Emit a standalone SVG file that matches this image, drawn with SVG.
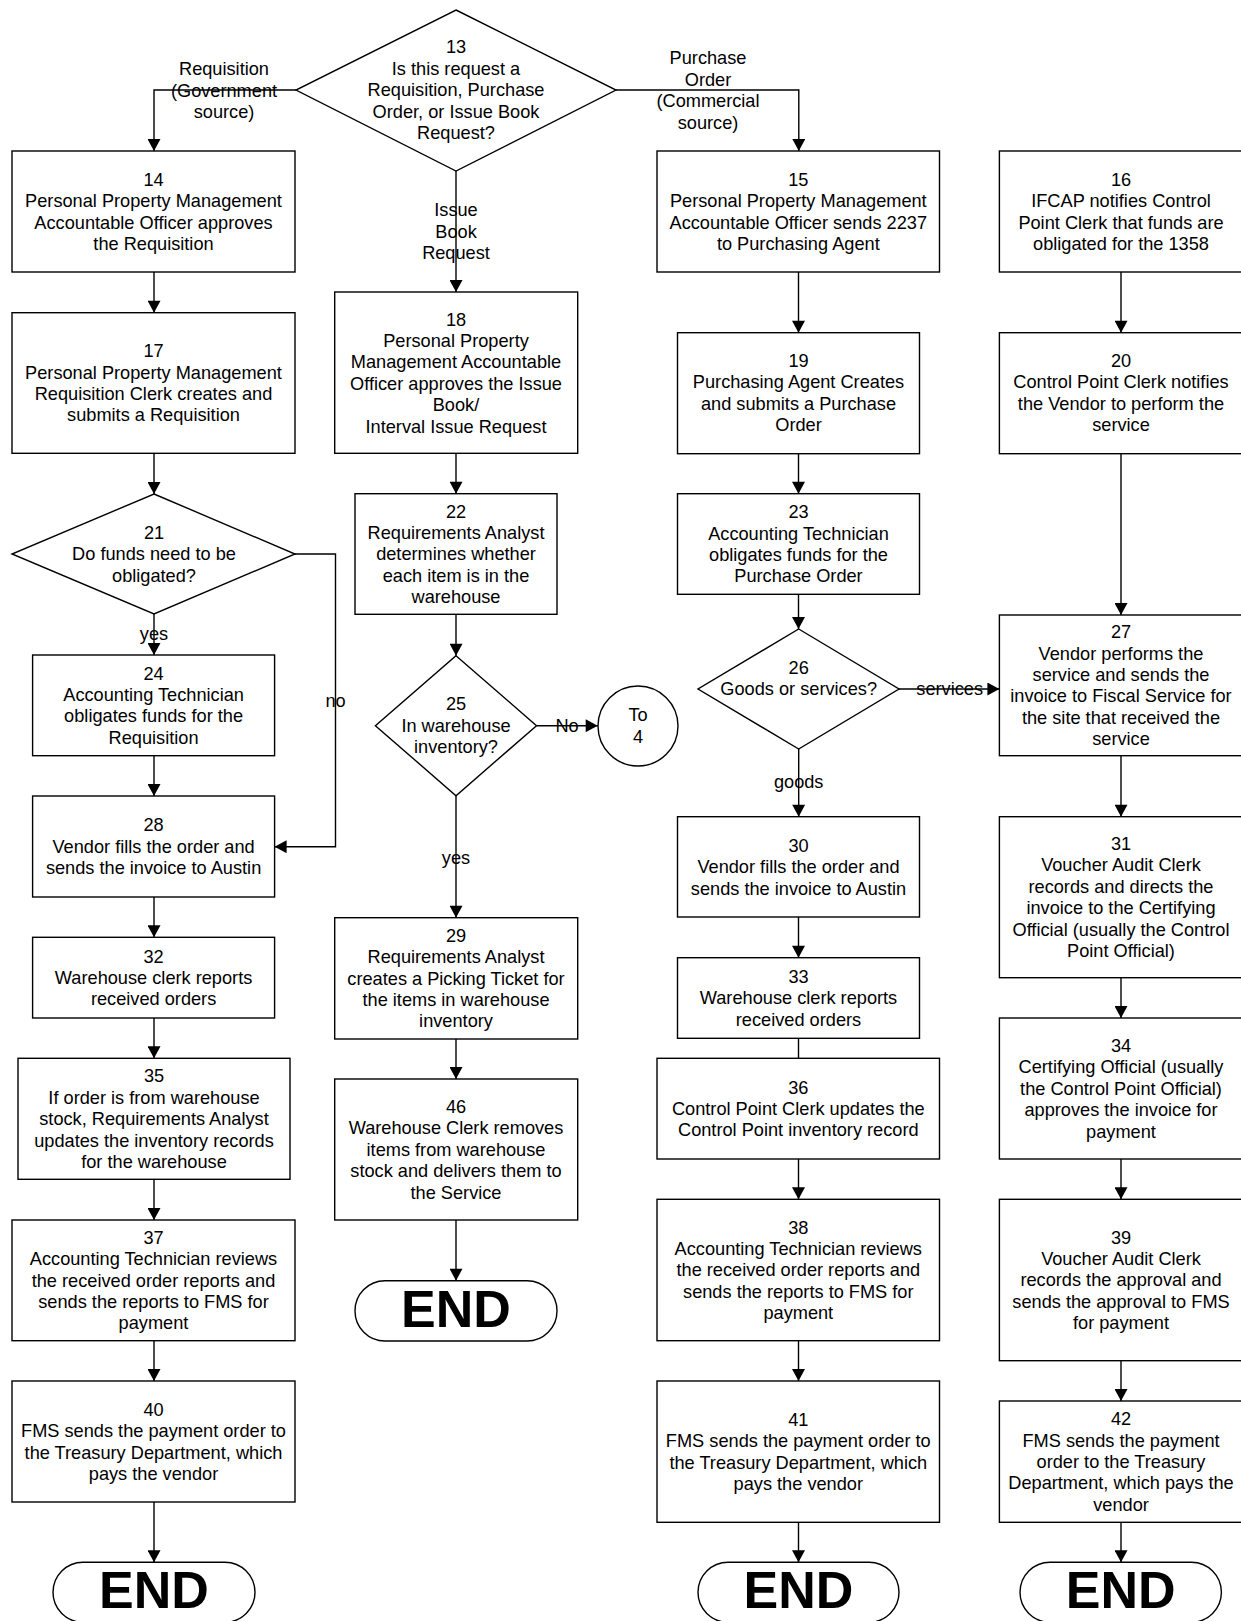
<svg xmlns="http://www.w3.org/2000/svg" width="1241" height="1621" viewBox="0 0 1241 1621">
<style>
.n rect,.n polygon,.n circle{fill:#fff;stroke:#000;stroke-width:1.4}
.t{font-family:"Liberation Sans",Arial,sans-serif;font-size:18.2px;fill:#000;text-anchor:middle}
.e{font-family:"Liberation Sans",Arial,sans-serif;font-size:52px;font-weight:bold;fill:#000;text-anchor:middle}
.c path{fill:none;stroke:#000;stroke-width:1.4}
.a{marker-end:url(#ah)}
</style>
<defs>
<marker id="ah" markerUnits="userSpaceOnUse" markerWidth="13" markerHeight="13" refX="12" refY="6.5" orient="auto" viewBox="0 0 12 13">
<path d="M0,0 L12,6.5 L0,13 z" fill="#000"/>
</marker>
</defs>
<rect width="1241" height="1621" fill="#fff"/>

<g id="connectors" class="c">
<path class="a" d="M296,90 H154 V151"/>
<path class="a" d="M456,171 V292"/>
<path class="a" d="M616,90 H798.8 V151"/>
<path class="a" d="M154,272 V312.7"/>
<path class="a" d="M798.5,272 V332.7"/>
<path class="a" d="M1121,272 V332.7"/>
<path class="a" d="M154,453.3 V494"/>
<path class="a" d="M456,453.3 V493.7"/>
<path class="a" d="M798.5,453.7 V493.7"/>
<path class="a" d="M1121,453.7 V615"/>
<path class="a" d="M154,614 V655"/>
<path class="a" d="M295,554 H335.5 V846.7 H274.6"/>
<path class="a" d="M456,614.3 V655.7"/>
<path class="a" d="M798.5,594.3 V629"/>
<path class="a" d="M154,755.7 V796"/>
<path class="a" d="M536.5,725.7 H597.7"/>
<path class="a" d="M456,795.7 V917.7"/>
<path class="a" d="M899,689 H999.4"/>
<path class="a" d="M798.7,749 V816.7"/>
<path class="a" d="M1121,755.7 V816.7"/>
<path class="a" d="M154,897 V937.3"/>
<path class="a" d="M456,1039 V1079"/>
<path class="a" d="M798.5,917 V957.7"/>
<path class="a" d="M1121,977.7 V1018"/>
<path class="a" d="M154,1018 V1058.3"/>
<path d="M798.5,1038.3 V1058.3"/>
<path class="a" d="M1121,1159 V1199.3"/>
<path class="a" d="M154,1179.3 V1220"/>
<path class="a" d="M798.5,1159 V1199.3"/>
<path class="a" d="M456,1220 V1280.7"/>
<path class="a" d="M154,1340.7 V1381"/>
<path class="a" d="M798.5,1340.7 V1381"/>
<path class="a" d="M1121,1360.7 V1401"/>
<path class="a" d="M154,1502 V1562.3"/>
<path class="a" d="M798.5,1522.3 V1562.3"/>
<path class="a" d="M1121,1522.3 V1562.3"/>
<text class="t" x="224" y="75.2">Requisition<tspan x="224" dy="21.4">(Government</tspan><tspan x="224" dy="21.4">source)</tspan></text>
<text class="t" x="456" y="216.2">Issue<tspan x="456" dy="21.4">Book</tspan><tspan x="456" dy="21.4">Request</tspan></text>
<text class="t" x="708" y="64.4">Purchase<tspan x="708" dy="21.4">Order</tspan><tspan x="708" dy="21.4">(Commercial</tspan><tspan x="708" dy="21.4">source)</tspan></text>
<text class="t" x="154" y="640.3">yes</text>
<text class="t" x="335.5" y="707">no</text>
<text class="t" x="567" y="732">No</text>
<text class="t" x="456" y="863.6">yes</text>
<text class="t" x="949.7" y="695.3">services</text>
<text class="t" x="798.7" y="788">goods</text>
</g>

<g id="n13" class="n"><polygon points="456,10 616,90 456,171 296,90"/>
<text class="t" x="456" y="53.3">13<tspan x="456" dy="21.4">Is this request a</tspan><tspan x="456" dy="21.4">Requisition, Purchase</tspan><tspan x="456" dy="21.4">Order, or Issue Book</tspan><tspan x="456" dy="21.4">Request?</tspan></text></g>

<g id="n14" class="n"><rect x="12" y="151" width="283" height="121"/>
<text class="t" x="153.5" y="185.7">14<tspan x="153.5" dy="21.4">Personal Property Management</tspan><tspan x="153.5" dy="21.4">Accountable Officer approves</tspan><tspan x="153.5" dy="21.4">the Requisition</tspan></text></g>

<g id="n15" class="n"><rect x="657" y="151" width="282.5" height="121"/>
<text class="t" x="798.3" y="185.7">15<tspan x="798.3" dy="21.4">Personal Property Management</tspan><tspan x="798.3" dy="21.4">Accountable Officer sends 2237</tspan><tspan x="798.3" dy="21.4">to Purchasing Agent</tspan></text></g>

<g id="n16" class="n"><rect x="999.4" y="151" width="244" height="121"/>
<text class="t" x="1121" y="185.7">16<tspan x="1121" dy="21.4">IFCAP notifies Control</tspan><tspan x="1121" dy="21.4">Point Clerk that funds are</tspan><tspan x="1121" dy="21.4">obligated for the 1358</tspan></text></g>

<g id="n17" class="n"><rect x="12" y="312.7" width="283" height="140.6"/>
<text class="t" x="153.5" y="357.2">17<tspan x="153.5" dy="21.4">Personal Property Management</tspan><tspan x="153.5" dy="21.4">Requisition Clerk creates and</tspan><tspan x="153.5" dy="21.4">submits a Requisition</tspan></text></g>

<g id="n18" class="n"><rect x="334.7" y="292" width="243" height="161.3"/>
<text class="t" x="456" y="325.5">18<tspan x="456" dy="21.4">Personal Property</tspan><tspan x="456" dy="21.4">Management Accountable</tspan><tspan x="456" dy="21.4">Officer approves the Issue</tspan><tspan x="456" dy="21.4">Book/</tspan><tspan x="456" dy="21.4">Interval Issue Request</tspan></text></g>

<g id="n19" class="n"><rect x="677.5" y="332.7" width="242" height="121"/>
<text class="t" x="798.5" y="367">19<tspan x="798.5" dy="21.4">Purchasing Agent Creates</tspan><tspan x="798.5" dy="21.4">and submits a Purchase</tspan><tspan x="798.5" dy="21.4">Order</tspan></text></g>

<g id="n20" class="n"><rect x="999.4" y="332.7" width="244" height="121"/>
<text class="t" x="1121" y="367">20<tspan x="1121" dy="21.4">Control Point Clerk notifies</tspan><tspan x="1121" dy="21.4">the Vendor to perform the</tspan><tspan x="1121" dy="21.4">service</tspan></text></g>

<g id="n21" class="n"><polygon points="154,494 295,554 154,614 12,554"/>
<text class="t" x="154" y="538.9">21<tspan x="154" dy="21.4">Do funds need to be</tspan><tspan x="154" dy="21.4">obligated?</tspan></text></g>

<g id="n22" class="n"><rect x="355" y="493.7" width="202" height="120.6"/>
<text class="t" x="456" y="517.5">22<tspan x="456" dy="21.4">Requirements Analyst</tspan><tspan x="456" dy="21.4">determines whether</tspan><tspan x="456" dy="21.4">each item is in the</tspan><tspan x="456" dy="21.4">warehouse</tspan></text></g>

<g id="n23" class="n"><rect x="677.5" y="493.7" width="242" height="100.6"/>
<text class="t" x="798.5" y="518.2">23<tspan x="798.5" dy="21.4">Accounting Technician</tspan><tspan x="798.5" dy="21.4">obligates funds for the</tspan><tspan x="798.5" dy="21.4">Purchase Order</tspan></text></g>

<g id="n24" class="n"><rect x="32.6" y="655" width="242" height="100.7"/>
<text class="t" x="153.6" y="679.5">24<tspan x="153.6" dy="21.4">Accounting Technician</tspan><tspan x="153.6" dy="21.4">obligates funds for the</tspan><tspan x="153.6" dy="21.4">Requisition</tspan></text></g>

<g id="n25" class="n"><polygon points="456,655.7 536.5,725.7 456,795.7 375.4,725.7"/>
<text class="t" x="456" y="710.4">25<tspan x="456" dy="21.4">In warehouse</tspan><tspan x="456" dy="21.4">inventory?</tspan></text></g>

<g id="to4" class="n"><circle cx="638" cy="726" r="40"/>
<text class="t" x="638" y="721.1">To<tspan x="638" dy="21.4">4</tspan></text></g>

<g id="n26" class="n"><polygon points="798.7,629 899,689 798.7,749 698,689"/>
<text class="t" x="798.7" y="673.6">26<tspan x="798.7" dy="21.4">Goods or services?</tspan></text></g>

<g id="n27" class="n"><rect x="999.4" y="615" width="244" height="140.7"/>
<text class="t" x="1121" y="638.1">27<tspan x="1121" dy="21.4">Vendor performs the</tspan><tspan x="1121" dy="21.4">service and sends the</tspan><tspan x="1121" dy="21.4">invoice to Fiscal Service for</tspan><tspan x="1121" dy="21.4">the site that received the</tspan><tspan x="1121" dy="21.4">service</tspan></text></g>

<g id="n28" class="n"><rect x="32.6" y="796" width="242" height="101"/>
<text class="t" x="153.6" y="831.4">28<tspan x="153.6" dy="21.4">Vendor fills the order and</tspan><tspan x="153.6" dy="21.4">sends the invoice to Austin</tspan></text></g>

<g id="n29" class="n"><rect x="334.7" y="917.7" width="243" height="121.3"/>
<text class="t" x="456" y="941.8">29<tspan x="456" dy="21.4">Requirements Analyst</tspan><tspan x="456" dy="21.4">creates a Picking Ticket for</tspan><tspan x="456" dy="21.4">the items in warehouse</tspan><tspan x="456" dy="21.4">inventory</tspan></text></g>

<g id="n30" class="n"><rect x="677.5" y="816.7" width="242" height="100.3"/>
<text class="t" x="798.5" y="851.7">30<tspan x="798.5" dy="21.4">Vendor fills the order and</tspan><tspan x="798.5" dy="21.4">sends the invoice to Austin</tspan></text></g>

<g id="n31" class="n"><rect x="999.4" y="816.7" width="244" height="161"/>
<text class="t" x="1121" y="850">31<tspan x="1121" dy="21.4">Voucher Audit Clerk</tspan><tspan x="1121" dy="21.4">records and directs the</tspan><tspan x="1121" dy="21.4">invoice to the Certifying</tspan><tspan x="1121" dy="21.4">Official (usually the Control</tspan><tspan x="1121" dy="21.4">Point Official)</tspan></text></g>

<g id="n32" class="n"><rect x="32.6" y="937.3" width="242" height="80.7"/>
<text class="t" x="153.6" y="962.6">32<tspan x="153.6" dy="21.4">Warehouse clerk reports</tspan><tspan x="153.6" dy="21.4">received orders</tspan></text></g>

<g id="n33" class="n"><rect x="677.5" y="957.7" width="242" height="80.6"/>
<text class="t" x="798.5" y="982.9">33<tspan x="798.5" dy="21.4">Warehouse clerk reports</tspan><tspan x="798.5" dy="21.4">received orders</tspan></text></g>

<g id="n34" class="n"><rect x="999.4" y="1018" width="244" height="141"/>
<text class="t" x="1121" y="1052">34<tspan x="1121" dy="21.4">Certifying Official (usually</tspan><tspan x="1121" dy="21.4">the Control Point Official)</tspan><tspan x="1121" dy="21.4">approves the invoice for</tspan><tspan x="1121" dy="21.4">payment</tspan></text></g>

<g id="n35" class="n"><rect x="18" y="1058.3" width="272" height="121"/>
<text class="t" x="154" y="1082.3">35<tspan x="154" dy="21.4">If order is from warehouse</tspan><tspan x="154" dy="21.4">stock, Requirements Analyst</tspan><tspan x="154" dy="21.4">updates the inventory records</tspan><tspan x="154" dy="21.4">for the warehouse</tspan></text></g>

<g id="n36" class="n"><rect x="657" y="1058.3" width="282.5" height="100.7"/>
<text class="t" x="798.3" y="1093.6">36<tspan x="798.3" dy="21.4">Control Point Clerk updates the</tspan><tspan x="798.3" dy="21.4">Control Point inventory record</tspan></text></g>

<g id="n37" class="n"><rect x="12" y="1220" width="283" height="120.7"/>
<text class="t" x="153.5" y="1243.8">37<tspan x="153.5" dy="21.4">Accounting Technician reviews</tspan><tspan x="153.5" dy="21.4">the received order reports and</tspan><tspan x="153.5" dy="21.4">sends the reports to FMS for</tspan><tspan x="153.5" dy="21.4">payment</tspan></text></g>

<g id="n38" class="n"><rect x="657" y="1199.3" width="282.5" height="141.4"/>
<text class="t" x="798.3" y="1233.5">38<tspan x="798.3" dy="21.4">Accounting Technician reviews</tspan><tspan x="798.3" dy="21.4">the received order reports and</tspan><tspan x="798.3" dy="21.4">sends the reports to FMS for</tspan><tspan x="798.3" dy="21.4">payment</tspan></text></g>

<g id="n39" class="n"><rect x="999.4" y="1199.3" width="244" height="161.4"/>
<text class="t" x="1121" y="1243.5">39<tspan x="1121" dy="21.4">Voucher Audit Clerk</tspan><tspan x="1121" dy="21.4">records the approval and</tspan><tspan x="1121" dy="21.4">sends the approval to FMS</tspan><tspan x="1121" dy="21.4">for payment</tspan></text></g>

<g id="n40" class="n"><rect x="12" y="1381" width="283" height="121"/>
<text class="t" x="153.5" y="1415.7">40<tspan x="153.5" dy="21.4">FMS sends the payment order to</tspan><tspan x="153.5" dy="21.4">the Treasury Department, which</tspan><tspan x="153.5" dy="21.4">pays the vendor</tspan></text></g>

<g id="n41" class="n"><rect x="657" y="1381" width="282.5" height="141.3"/>
<text class="t" x="798.3" y="1425.9">41<tspan x="798.3" dy="21.4">FMS sends the payment order to</tspan><tspan x="798.3" dy="21.4">the Treasury Department, which</tspan><tspan x="798.3" dy="21.4">pays the vendor</tspan></text></g>

<g id="n42" class="n"><rect x="999.4" y="1401" width="244" height="121.3"/>
<text class="t" x="1121" y="1425.2">42<tspan x="1121" dy="21.4">FMS sends the payment</tspan><tspan x="1121" dy="21.4">order to the Treasury</tspan><tspan x="1121" dy="21.4">Department, which pays the</tspan><tspan x="1121" dy="21.4">vendor</tspan></text></g>

<g id="n46" class="n"><rect x="334.7" y="1079" width="243" height="141"/>
<text class="t" x="456" y="1113">46<tspan x="456" dy="21.4">Warehouse Clerk removes</tspan><tspan x="456" dy="21.4">items from warehouse</tspan><tspan x="456" dy="21.4">stock and delivers them to</tspan><tspan x="456" dy="21.4">the Service</tspan></text></g>

<g id="end1" class="n"><rect x="53" y="1562.3" width="202" height="60" rx="30" ry="30"/>
<text class="e" x="154" y="1608.3">END</text></g>
<g id="end2" class="n"><rect x="355" y="1280.7" width="202" height="60.3" rx="30" ry="30"/>
<text class="e" x="456" y="1326.7">END</text></g>
<g id="end3" class="n"><rect x="698" y="1562.3" width="201" height="60" rx="30" ry="30"/>
<text class="e" x="798.5" y="1608.3">END</text></g>
<g id="end4" class="n"><rect x="1020" y="1562.3" width="201.4" height="60" rx="30" ry="30"/>
<text class="e" x="1120.7" y="1608.3">END</text></g>
</svg>
